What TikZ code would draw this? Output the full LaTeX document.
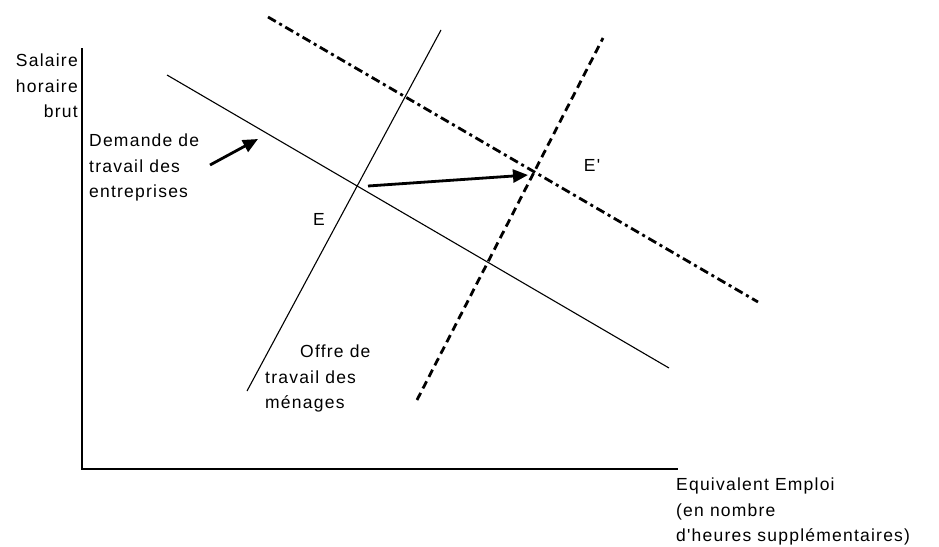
\documentclass[tikz,border=0pt]{standalone}
\usepackage{fontspec}
\setmainfont{Liberation Sans}[LetterSpace=7,Ligatures=TeXOff]
\usetikzlibrary{arrows.meta}
\begin{document}
\begin{tikzpicture}[x=1pt,y=-1pt,
  lbl/.style={inner sep=0pt,font=\fontsize{17.5}{25.5}\selectfont},
  axis/.style={line width=1.4pt},
  curve/.style={line width=1.1pt},
  shiftsupply/.style={line width=2.8pt,dash pattern=on 8pt off 5pt},
  shiftdemand/.style={line width=2.8pt,dash pattern=on 9pt off 4pt on 3pt off 4pt},
  bigarrow/.style={line width=2.8pt,-{Triangle[length=15pt,width=13pt]}}]
\useasboundingbox (0,0) rectangle (939,546);
% axes
\coordinate (ytop) at (82,48);
\coordinate (orig) at (82,469);
\coordinate (xend) at (678,469);
\draw[axis] (ytop) -- (orig) -- (xend);
% curves
\coordinate (d1) at (167,75);  \coordinate (d2) at (669,368);
\coordinate (s1) at (247,391); \coordinate (s2) at (441,30);
\coordinate (ns1) at (417,400); \coordinate (ns2) at (603,38);
\coordinate (nd1) at (268,17); \coordinate (nd2) at (758,302);
\draw[curve] (d1) -- (d2);
\draw[curve] (s1) -- (s2);
\draw[shiftsupply] (ns1) -- (ns2);
\draw[shiftdemand] (nd1) -- (nd2);
% arrows
\coordinate (a1) at (368,186); \coordinate (a2) at (528,175);
\draw[bigarrow] (a1) -- (a2);
\coordinate (b1) at (210,165); \coordinate (b2) at (258,139);
\draw[bigarrow] (b1) -- (b2);
% labels
\node[lbl,anchor=north east,align=right] (ylab) at (78,54) {Salaire\\horaire\\brut};
\node[lbl,anchor=north west,align=left] (dem) at (89,134) {Demande de\\travail des\\entreprises};
\node[lbl] (E) at (319,219) {E};
\node[lbl] (Ep) at (592,165) {E'};
\node[lbl,anchor=north west,align=left] (off) at (265,345) {\hspace*{35pt}Offre de\\travail des\\ménages};
\node[lbl,anchor=north west,align=left] (xlab) at (676,478) {Equivalent Emploi\\(en nombre\\d'heures supplémentaires)};
\end{tikzpicture}
\end{document}
